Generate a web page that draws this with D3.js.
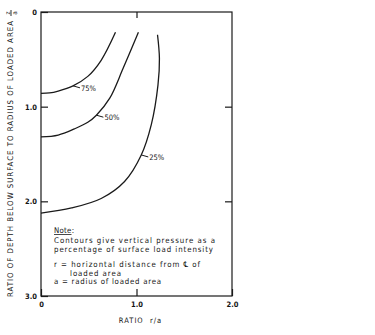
<!DOCTYPE html>
<html>
<head>
<meta charset="utf-8">
<script src="https://cdn.jsdelivr.net/npm/d3@7/dist/d3.min.js"></script>
<style>
  html, body { margin: 0; padding: 0; background: #fff; }
  svg { display: block; }
  text { fill: #151515; font-family: 'DejaVu Sans Condensed', 'Liberation Sans Narrow', 'DejaVu Sans', sans-serif; }
</style>
</head>
<body>
<svg id="chart" width="375" height="335"></svg>
<script>
// ---- data ----
const xTicks = [0, 1, 2];
const yTicks = [0, 1, 2, 3];
const curveNames = ["75%", "50%", "25%"];
const curve75R = [0, 0.09, 0.18, 0.335, 0.49, 0.63, 0.78];
const curve75Z = [0.86, 0.855, 0.835, 0.78, 0.68, 0.51, 0.215];
const curve50R = [0, 0.18, 0.35, 0.49, 0.58, 0.72, 0.86, 1.02];
const curve50Z = [1.32, 1.30, 1.235, 1.165, 1.09, 0.91, 0.595, 0.215];
const curve25R = [0, 0.32, 0.63, 0.875, 1.05, 1.155, 1.225, 1.24, 1.22];
const curve25Z = [2.125, 2.07, 1.97, 1.79, 1.51, 1.19, 0.77, 0.49, 0.24];
const labelR = [0.335, 0.58, 1.05];
const labelZ = [0.78, 1.09, 1.51];
const xTitle = "RATIO  r/a";
const yTitle = "RATIO OF DEPTH BELOW SURFACE TO RADIUS OF LOADED AREA";
const noteLines = [
  "Contours give vertical pressure as a",
  "percentage of surface load intensity",
  "r = horizontal distance from \u2104 of",
  "loaded area",
  "a = radius of loaded area"
];

// ---- layout ----
const svg = d3.select("#chart");
const L = 41, R = 232, T = 12, B = 296;
const x = d3.scaleLinear().domain([0, 2]).range([L, R]);
const y = d3.scaleLinear().domain([0, 3]).range([T, B]);
const ink = "#1a1a1a";

// frame
svg.append("rect").attr("x", L).attr("y", T).attr("width", R - L).attr("height", B - T)
  .attr("fill", "none").attr("stroke", ink).attr("stroke-width", 1.2);

const fmt = d => d === 0 ? "0" : d3.format(".1f")(d);

const gl = svg.append("g").attr("transform", `translate(${L},0)`)
  .call(d3.axisLeft(y).tickValues(yTicks).tickSize(-7).tickSizeOuter(0).tickPadding(4).tickFormat(fmt));
const gb = svg.append("g").attr("transform", `translate(0,${B})`)
  .call(d3.axisBottom(x).tickValues(xTicks).tickSize(-7).tickSizeOuter(0).tickPadding(6).tickFormat(fmt));
const gt = svg.append("g").attr("transform", `translate(0,${T})`)
  .call(d3.axisTop(x).tickValues([1]).tickSize(-6).tickSizeOuter(0).tickFormat(""));
const gr = svg.append("g").attr("transform", `translate(${R},0)`)
  .call(d3.axisRight(y).tickValues([1, 2]).tickSize(-7).tickSizeOuter(0).tickFormat(""));

[gl, gb, gt, gr].forEach(g => {
  g.select(".domain").remove();
  g.selectAll(".tick line").attr("stroke", ink).attr("stroke-width", 1.2);
  g.selectAll(".tick text").attr("fill", "#151515").attr("font-size", 7.5)
    .attr("font-family", "'DejaVu Sans Condensed','DejaVu Sans',sans-serif").attr("font-weight", "bold");
});

// axis titles
svg.append("text").attr("x", 140.5).attr("y", 323).attr("text-anchor", "middle")
  .attr("font-size", 7.5).attr("letter-spacing", 1).attr("xml:space", "preserve").text(xTitle);

svg.append("text").attr("transform", "translate(13,159) rotate(-90)")
  .attr("text-anchor", "middle").attr("font-size", 7.8)
  .attr("textLength", 276).attr("lengthAdjust", "spacing").text(yTitle);

// z/a fraction
const fr = svg.append("g").attr("transform", "translate(11,13) rotate(-90)");
fr.append("text").attr("x", 0).attr("y", -1.5).attr("text-anchor", "middle").attr("font-size", 6.5).text("z");
fr.append("line").attr("x1", -3).attr("x2", 3).attr("y1", 0).attr("y2", 0).attr("stroke", ink).attr("stroke-width", 0.9);
fr.append("text").attr("x", 0).attr("y", 6.3).attr("text-anchor", "middle").attr("font-size", 6.5).text("a");

// curves
const curves = [
  d3.zip(curve75R, curve75Z),
  d3.zip(curve50R, curve50Z),
  d3.zip(curve25R, curve25Z)
];
const line = d3.line().x(d => x(d[0])).y(d => y(d[1])).curve(d3.curveCatmullRom.alpha(0.5));
svg.append("g").selectAll("path").data(curves).join("path")
  .attr("d", line).attr("fill", "none").attr("stroke", ink).attr("stroke-width", 1.3);

// contour labels
const lab = svg.append("g");
curveNames.forEach((name, i) => {
  const px = x(labelR[i]), py = y(labelZ[i]);
  lab.append("line").attr("x1", px).attr("y1", py).attr("x2", px + 7).attr("y2", py + 2)
    .attr("stroke", ink).attr("stroke-width", 1);
  lab.append("text").attr("x", px + 8).attr("y", py + 4.8).attr("font-size", 7.5).text(name);
});

// note
const nx = 54;
const note = svg.append("g");
note.append("text").attr("x", nx).attr("y", 233).attr("font-size", 7.8)
  .attr("textLength", 20).attr("lengthAdjust", "spacing").text("Note:");
note.append("line").attr("x1", nx).attr("x2", nx + 17.5).attr("y1", 234.5).attr("y2", 234.5)
  .attr("stroke", ink).attr("stroke-width", 0.8);
const noteY = [243, 252, 267, 275.5, 284];
const noteX = [nx, nx, nx, 70, nx];
const noteW = [161, 159, 146, 51, 107];
noteLines.forEach((t, i) => {
  note.append("text").attr("x", noteX[i]).attr("y", noteY[i]).attr("font-size", 7.8)
    .attr("textLength", noteW[i]).attr("lengthAdjust", "spacing").text(t);
});
</script>
</body>
</html>
